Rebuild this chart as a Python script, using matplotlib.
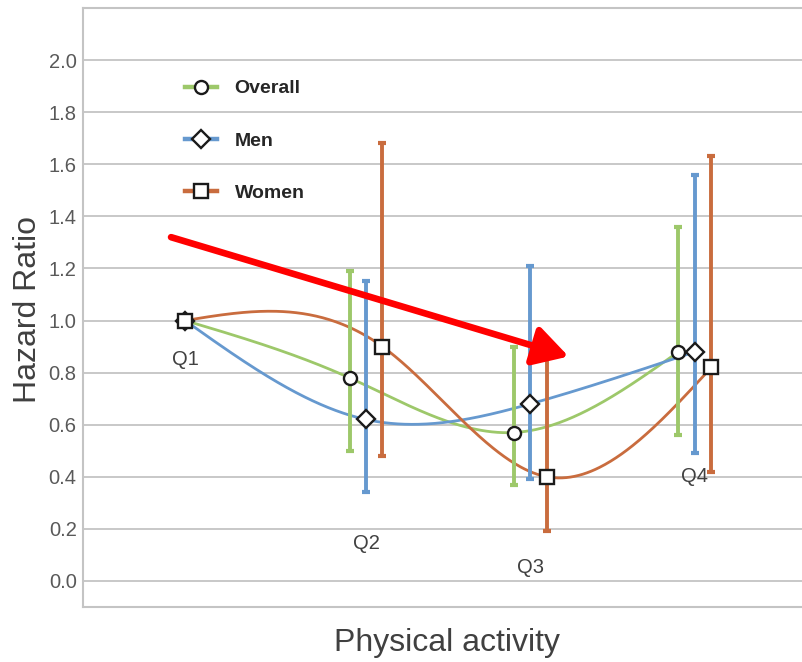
import numpy as np
import matplotlib
matplotlib.use("Agg")
import matplotlib.pyplot as plt
from matplotlib.lines import Line2D
from matplotlib.patches import FancyArrowPatch

plt.rcParams['font.family'] = ['Liberation Sans', 'DejaVu Sans']

# ---------------- data ----------------
categories = ['Q1', 'Q2', 'Q3', 'Q4']
x_overall = [0.9, 1.9, 2.9, 3.9]
x_men = [0.9, 2.0, 3.0, 4.0]
x_women = [0.9, 2.1, 3.1, 4.1]

overall_hr = [1.00, 0.78, 0.57, 0.88]
overall_lo = [1.00, 0.50, 0.37, 0.56]
overall_hi = [1.00, 1.19, 0.90, 1.36]

men_hr = [1.00, 0.62, 0.68, 0.88]
men_lo = [1.00, 0.34, 0.39, 0.49]
men_hi = [1.00, 1.15, 1.21, 1.56]

women_hr = [1.00, 0.90, 0.40, 0.82]
women_lo = [1.00, 0.48, 0.19, 0.42]
women_hi = [1.00, 1.68, 0.87, 1.63]

q_label_y = [0.85, 0.145, 0.05, 0.40]
y_ticks = [0.0, 0.2, 0.4, 0.6, 0.8, 1.0, 1.2, 1.4, 1.6, 1.8, 2.0]
arrow_start = (0.815, 1.32)
arrow_end = (3.232, 0.862)

c_overall = '#9DC86A'
c_men = '#6699CF'
c_women = '#C96C3E'


def natural_spline(x, y, n=120):
    x = np.asarray(x, float)
    y = np.asarray(y, float)
    k = len(x)
    h = np.diff(x)
    d = np.diff(y) / h
    A = np.zeros((k, k))
    b = np.zeros(k)
    A[0, 0] = 1.0
    A[-1, -1] = 1.0
    for i in range(1, k - 1):
        A[i, i - 1] = h[i - 1]
        A[i, i] = 2 * (h[i - 1] + h[i])
        A[i, i + 1] = h[i]
        b[i] = 6 * (d[i] - d[i - 1])
    M = np.linalg.solve(A, b)
    xs, ys = [], []
    for i in range(k - 1):
        t = np.linspace(x[i], x[i + 1], n)
        a = x[i + 1] - t
        bb = t - x[i]
        s = (M[i] * a ** 3 / (6 * h[i]) + M[i + 1] * bb ** 3 / (6 * h[i])
             + (y[i] / h[i] - M[i] * h[i] / 6) * a
             + (y[i + 1] / h[i] - M[i + 1] * h[i] / 6) * bb)
        xs.append(t)
        ys.append(s)
    return np.concatenate(xs), np.concatenate(ys)


fig = plt.figure(figsize=(8.03, 6.62), dpi=100)
ax = fig.add_axes([83 / 803, 55 / 662, 720 / 803, 599 / 662])

ax.set_xlim(0.2796, 4.657)
ax.set_ylim(-0.1, 2.2)

series = [
    ('Overall', x_overall, overall_hr, overall_lo, overall_hi, c_overall, 'o'),
    ('Men', x_men, men_hr, men_lo, men_hi, c_men, 'D'),
    ('Women', x_women, women_hr, women_lo, women_hi, c_women, 's'),
]

handles = []
for name, xs, hr, lo, hi, col, mk in series:
    sx, sy = natural_spline(xs, hr)
    ax.plot(sx, sy, color=col, lw=2.0, zorder=2, solid_capstyle='round')
for name, xs, hr, lo, hi, col, mk in series:
    hr_a = np.array(hr[1:])
    err = [hr_a - np.array(lo[1:]), np.array(hi[1:]) - hr_a]
    ax.errorbar(xs[1:], hr[1:], yerr=err, fmt='none', ecolor=col,
                elinewidth=2.8, capsize=3, capthick=3, zorder=3)
for name, xs, hr, lo, hi, col, mk in series:
    ms = 9.4 if mk != 'D' else 9.0
    ax.plot(xs, hr, linestyle='none', marker=mk, markersize=ms,
            markerfacecolor='white', markeredgecolor='#1a1a1a',
            markeredgewidth=1.7, zorder=4)
    handles.append(Line2D([], [], color=col, lw=3.2, marker=mk, markersize=ms,
                          markerfacecolor='white', markeredgecolor='#1a1a1a',
                          markeredgewidth=1.7, label=name))

# category labels
for cat, xm, yl in zip(categories, x_men, q_label_y):
    ax.text(xm, yl, cat, ha='center', va='center', fontsize=14.5,
            color='#404040', zorder=5)

# red arrow
arrow = FancyArrowPatch(arrow_start, arrow_end,
                        arrowstyle='-|>,head_length=1.05,head_width=0.6',
                        mutation_scale=20, color='#FF0000', lw=4.8,
                        shrinkA=0, shrinkB=0, zorder=6)
ax.add_patch(arrow)

# axes styling
ax.set_yticks(y_ticks)
ax.set_yticklabels([f'{v:.1f}' for v in y_ticks])
ax.set_xticks([])
ax.tick_params(axis='y', length=0, pad=4.5, labelsize=14.5, labelcolor='#595959')
ax.grid(axis='y', color='#C8C8C8', lw=1.4, zorder=0)
ax.set_axisbelow(True)
for side in ['left', 'top', 'bottom']:
    ax.spines[side].set_color('#C4C4C4')
    ax.spines[side].set_linewidth(1.5)
ax.spines['right'].set_visible(False)

ax.set_ylabel('Hazard Ratio', fontsize=23, color='#404040', va='center')
ax.yaxis.set_label_coords(-0.0764, 0.496)
ax.set_xlabel('Physical activity', fontsize=23, color='#404040', va='center')
ax.xaxis.set_label_coords(0.5056, -0.060)

leg = ax.legend(handles=handles, loc='upper left', bbox_to_anchor=(0.1417, 0.880),
                frameon=False, borderpad=0, borderaxespad=0, handlelength=1.65,
                handletextpad=0.9, labelspacing=1.78,
                prop={'size': 14, 'weight': 'bold'})
for t in leg.get_texts():
    t.set_color('#262626')

fig.savefig('out.png', dpi=100)
